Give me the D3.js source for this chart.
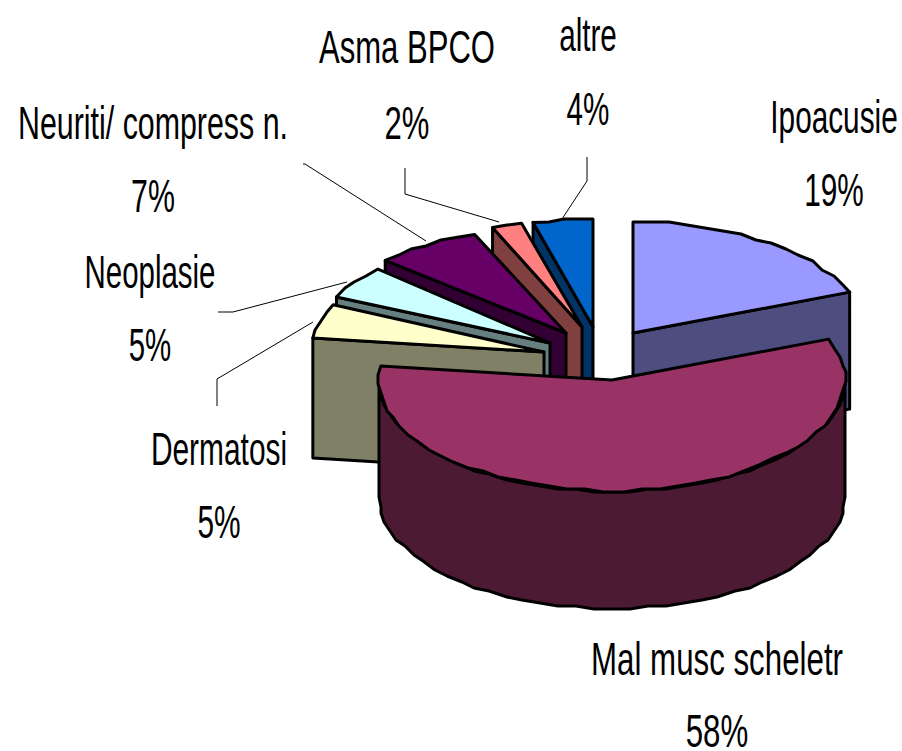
<!DOCTYPE html>
<html><head><meta charset="utf-8">
<script src="https://cdnjs.cloudflare.com/ajax/libs/d3/7.8.5/d3.min.js"></script>
<style>html,body{margin:0;background:#fff;overflow:hidden}svg{display:block}text{font-family:"Liberation Sans",Arial,sans-serif;font-size:46px;fill:#000}</style>
</head><body><svg id="c" width="902" height="751"></svg>
<script>
const categories=["Ipoacusie","Mal musc scheletr","Dermatosi","Neoplasie","Neuriti/ compress n.","Asma BPCO","altre"];
const values=[19,58,5,5,7,2,4];
const topColors=["#9999ff","#993366","#ffffcc","#ccffff","#660066","#ff8080","#0066cc"];
const wallColors=["#4d4d80","#4d1a33","#808066","#668080","#330033","#804040","#003366"];

// layout (not data)
const centers=[[633,333],[612,380],[544,352],[550,343],[566,333],[582,327],[593,327]];
const radiiX=[233,233,233,236,248,243,241];
const radiiY=[111,111,111,108,106,107,108];
const depths=[117,117,120,117,117,117,117];
const labelX=[834,717,219,150,153,407,588];
const labelY=[[133,206],[675,747],[465,538],[288,361],[139,212],[63,139],[51,125]];
const labelStretch=[0.647,0.68,0.65,0.64,0.66,0.675,0.645];
const leaders=[null,null,[[217,406],[217,379],[313,322]],[[218,312],[233,312],[347,282]],[[303,164],[305,164],[426,241]],[[405,168],[405,194],[499,222]],[[587,157],[587,181],[562,219]]];

const svg=d3.select("#c");
const unit=d3.scaleLinear().domain([-1,1]);
const arcs=d3.pie().sort(null).value(d=>d).startAngle(0).endAngle(2*Math.PI)(values);
const q=(v,s)=>Math.round(v/s)*s;
function rim(i,a){
  const c=centers[i];
  const x=unit.copy().range([-radiiX[i],radiiX[i]])(Math.sin(a));
  const y=unit.copy().range([-radiiY[i],radiiY[i]])(Math.cos(a));
  return [c[0]+x,c[1]-y];
}
function rimPts(i,a0,a1){
  const n=Math.max(2,Math.ceil((a1-a0)/0.08));
  const pts=[];
  for(let t=0;t<=n;t++){
    const p=rim(i,a0+(a1-a0)*t/n);
    pts.push(t==0||t==n?p:[q(p[0],3),q(p[1],3)]);
  }
  return pts;
}
const line=d3.line();
const drawOrder=[6,5,4,3,2,0,1];
const g=svg.append("g").attr("stroke","#000").attr("stroke-width",3).attr("stroke-linejoin","round");
drawOrder.forEach(i=>{
  const d=arcs[i],c=centers[i],D=depths[i];
  const item=g.append("g");
  const poly=(pts,fill)=>item.append("path").attr("d",line(pts)+"Z").attr("fill",fill);
  const fa=i===0?d.endAngle:d.startAngle;
  if(i!==1){
    const p=rim(i,fa);
    poly([c,p,[p[0],p[1]+D],[c[0],c[1]+D]],wallColors[i]);
  }
  const lo=Math.max(d.startAngle,Math.PI/2),hi=Math.min(d.endAngle,3*Math.PI/2);
  if(hi>lo){
    const rp=rimPts(i,lo,hi);
    poly(rp.concat(rp.slice().reverse().map(p=>[p[0],p[1]+D])),wallColors[i]);
  }
  poly([c].concat(rimPts(i,d.startAngle,d.endAngle)),topColors[i]);
});
leaders.forEach(l=>{if(l)svg.append("path").attr("d",line(l)).attr("fill","none").attr("stroke","#000").attr("stroke-width",1);});
categories.forEach((n,i)=>{
  const t=svg.append("text").attr("text-anchor","middle").attr("transform",`translate(${labelX[i]},0) scale(${labelStretch[i]},1)`);
  t.append("tspan").attr("x",0).attr("y",labelY[i][0]).text(n);
  t.append("tspan").attr("x",0).attr("y",labelY[i][1]).text(values[i]+"%");
});
</script></body></html>
